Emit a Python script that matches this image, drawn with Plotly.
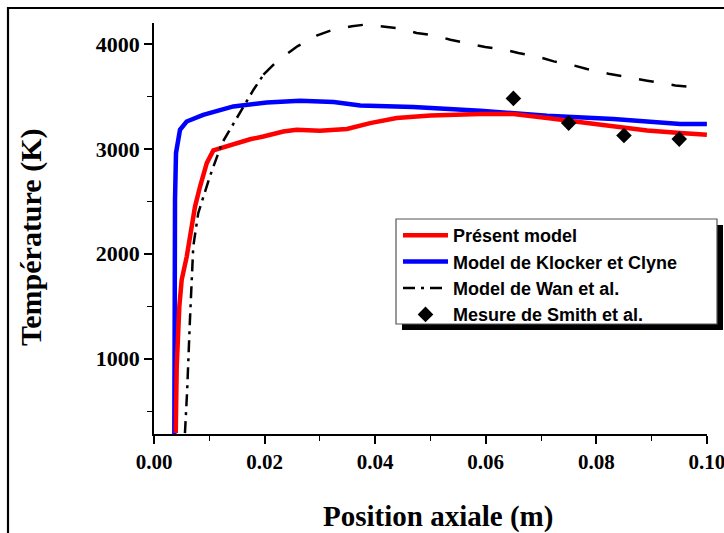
import plotly.graph_objects as go

# ---------------- data ----------------
pos_present = [0.00393, 0.00411, 0.00458, 0.00501, 0.00592, 0.00682, 0.00742, 0.00833, 0.00954,
               0.01073, 0.01316, 0.01738, 0.01978, 0.0234, 0.0258, 0.0300, 0.0349, 0.0391, 0.0439,
               0.0500, 0.0590, 0.0650, 0.0711, 0.0771, 0.0831, 0.0892, 0.0952, 0.1000]
T_present = [291, 924, 1496, 1751, 1973, 2228, 2450, 2641, 2864,
             2985, 3023, 3092, 3118, 3166, 3182, 3173, 3189, 3246, 3294,
             3319, 3332, 3332, 3294, 3256, 3208, 3176, 3151, 3135]

pos_klocker = [0.00368, 0.00368, 0.0038, 0.00398, 0.0047, 0.0059, 0.0089, 0.01436, 0.0204,
               0.0264, 0.0325, 0.0373, 0.0469, 0.0590, 0.0711, 0.0831, 0.0892, 0.0952, 0.1000]
T_klocker = [282, 1245, 2514, 2960, 3182, 3261, 3325, 3405, 3443,
             3459, 3447, 3414, 3399, 3364, 3316, 3284, 3262, 3237, 3237]

pos_wan = [0.0056, 0.0060, 0.0065, 0.0068, 0.0071, 0.0080, 0.0101, 0.0123, 0.0144, 0.0168, 0.0180,
           0.0198, 0.0222, 0.0260, 0.0294, 0.0319, 0.0358, 0.0382, 0.0448, 0.0475, 0.0509, 0.0536,
           0.0572, 0.0599, 0.0635, 0.0659, 0.0696, 0.0723, 0.0759, 0.0783, 0.0822, 0.0847, 0.0892,
           0.0916, 0.0943, 0.0970]
T_wan = [290, 700, 1370, 1720, 2069, 2387, 2737, 3055, 3246, 3468, 3564,
         3707, 3834, 3980, 4079, 4127, 4169, 4185, 4146, 4105, 4079, 4041,
         4000, 3971, 3946, 3914, 3876, 3834, 3796, 3761, 3716, 3690, 3650,
         3628, 3605, 3590]
wan_split = 0.0198  # dash-dot below, dashes above

pos_smith = [0.065, 0.075, 0.085, 0.095]
T_smith = [3481, 3246, 3128, 3093]

x_ticks = [0.00, 0.02, 0.04, 0.06, 0.08, 0.10]
x_ticklabels = ["0.00", "0.02", "0.04", "0.06", "0.08", "0.10"]
y_ticks = [1000, 2000, 3000, 4000]
y_ticklabels = ["1000", "2000", "3000", "4000"]

names = ["Présent model", "Model de Klocker et Clyne", "Model de Wan et al.", "Mesure de Smith et al."]
x_title = "Position axiale (m)"
y_title = "Température (K)"

# ---------------- layout geometry (pixels) ----------------
W, H = 724, 533
L, R, T, B = 154, 17, 23, 99
PW, PH = W - L - R, H - T - B


def px(x):
    return (x - L) / PW


def py(y):
    return (H - B - y) / PH


# ---------------- figure ----------------
fig = go.Figure()

fig.add_trace(go.Scatter(x=pos_klocker, y=T_klocker, mode="lines", name=names[1],
                         line=dict(color="#0000ff", width=4.5), legendrank=2))
fig.add_trace(go.Scatter(x=pos_present, y=T_present, mode="lines", name=names[0],
                         line=dict(color="#ff0000", width=4.5), legendrank=1))

wx1 = [x for x in pos_wan if x <= wan_split]
wy1 = [t for x, t in zip(pos_wan, T_wan) if x <= wan_split]
wx2 = [x for x in pos_wan if x >= wan_split]
wy2 = [t for x, t in zip(pos_wan, T_wan) if x >= wan_split]
fig.add_trace(go.Scatter(x=wx1, y=wy1, mode="lines", name=names[2], legendgroup="wan",
                         line=dict(color="black", width=2.5, dash="12px,6px,3px,6px"), legendrank=3))
fig.add_trace(go.Scatter(x=wx2, y=wy2, mode="lines", name=names[2], legendgroup="wan", showlegend=False,
                         line=dict(color="black", width=2.5, dash="15px,18px")))

fig.add_trace(go.Scatter(x=pos_smith, y=T_smith, mode="markers", name=names[3],
                         marker=dict(symbol="diamond", size=12, color="black"), legendrank=4))

xtickfont = dict(family="Liberation Serif", size=21, color="black", weight="bold")
ytickfont = dict(family="Liberation Serif", size=22, color="black", weight="bold")

fig.update_layout(
    width=W, height=H,
    margin=dict(l=L, r=R, t=T, b=B, pad=0, autoexpand=False),
    paper_bgcolor="white", plot_bgcolor="white",
    showlegend=True,
    legend=dict(x=px(398), y=py(217), xanchor="left", yanchor="top",
                bgcolor="rgba(0,0,0,0)", borderwidth=0, itemwidth=45, tracegroupgap=0,
                font=dict(family="Liberation Sans", size=18, color="black", weight="bold")),
    xaxis=dict(range=[0, 0.10002], showgrid=False, zeroline=False, showline=True, linecolor="black",
               linewidth=1.8, ticks="outside", ticklen=8, tickwidth=1.6, tickcolor="black",
               tickvals=x_ticks, ticktext=x_ticklabels, tickfont=xtickfont, ticklabeloverflow="allow",
               automargin=False,
               minor=dict(ticks="outside", ticklen=5, tickwidth=1.4, tickcolor="black", dtick=0.01, tick0=0)),
    yaxis=dict(range=[282, 4200], showgrid=False, zeroline=False, showline=True, linecolor="black",
               linewidth=1.8, ticks="outside", ticklen=8, tickwidth=1.6, tickcolor="black",
               tickvals=y_ticks, ticktext=y_ticklabels, tickfont=ytickfont, automargin=False,
               minor=dict(ticks="outside", ticklen=5, tickwidth=1.4, tickcolor="black", dtick=500, tick0=0)),
)

# axis titles
fig.add_annotation(text=x_title, xref="paper", yref="paper", x=px(438), y=py(516),
                   xanchor="center", yanchor="middle", showarrow=False,
                   font=dict(family="Liberation Serif", size=29, color="black", weight="bold"))
fig.add_annotation(text=y_title, xref="paper", yref="paper", x=px(31), y=py(238),
                   xanchor="center", yanchor="middle", showarrow=False, textangle=-90,
                   font=dict(family="Liberation Serif", size=30, color="black", weight="bold"))

# legend shadow and box
fig.add_shape(type="rect", xref="paper", yref="paper", x0=px(402), x1=px(723), y0=py(330), y1=py(225),
              fillcolor="black", line=dict(width=0), layer="below")
fig.add_shape(type="rect", xref="paper", yref="paper", x0=px(396), x1=px(717), y0=py(324), y1=py(219),
              fillcolor="white", line=dict(color="#555555", width=1.2), layer="below")

# outer frame
fig.add_shape(type="line", xref="paper", yref="paper", x0=px(7), x1=px(730), y0=py(8), y1=py(8),
              line=dict(color="black", width=2.2))
fig.add_shape(type="line", xref="paper", yref="paper", x0=px(8), x1=px(8), y0=py(7), y1=py(540),
              line=dict(color="black", width=2.2))

fig.write_html("out.html", config={"displayModeBar": False},
               post_script="document.body.style.margin='0';document.body.style.overflow='hidden';")
